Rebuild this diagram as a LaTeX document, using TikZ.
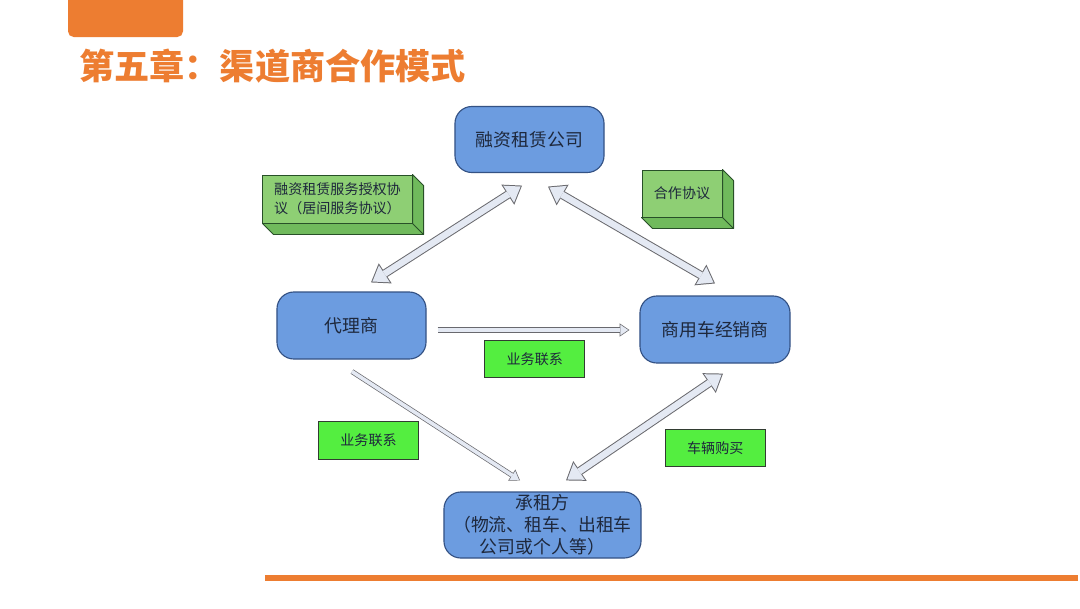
\documentclass[tikz,border=0pt]{standalone}
\usepackage{fontspec}
\setmainfont{Noto Sans CJK SC}
\usetikzlibrary{arrows.meta,calc}
\definecolor{slideorange}{RGB}{237,125,49}
\definecolor{partyfill}{RGB}{108,156,224}
\definecolor{partyline}{RGB}{52,82,132}
\definecolor{tagfill}{RGB}{84,238,64}
\definecolor{tagline}{RGB}{50,60,50}
\definecolor{dealfront}{RGB}{142,207,116}
\definecolor{dealside}{RGB}{112,186,92}
\definecolor{dealline}{RGB}{40,80,40}
\definecolor{arrowline}{RGB}{105,105,110}
\definecolor{arrowfill}{RGB}{228,233,243}
\definecolor{inktext}{RGB}{30,40,60}
\begin{document}
\begin{tikzpicture}[
		x=0.025cm, y=-0.025cm,
		party/.style={draw=partyline, fill=partyfill, line width=0.8pt, rounded corners=12pt, inner sep=0pt, align=center, text=inktext, font=\fontsize{12.7}{15.6}\selectfont},
		tag/.style={draw=tagline, fill=tagfill, line width=0.7pt, inner sep=0pt, minimum width=2.5cm, minimum height=0.94cm, text=inktext, font=\fontsize{10}{12}\selectfont},
		deal/.style={draw=dealline, fill=dealfront, line width=0.7pt, inner sep=0pt, align=left, text=inktext, font=\fontsize{10}{13.5}\selectfont},
		twoway/.style={draw=arrowline, line width=6pt,
				{Triangle[length=12pt,width=17pt,line width=0pt]}-{Triangle[length=12pt,width=17pt,line width=0pt]},
				postaction={draw=arrowfill, line width=4.6pt, shorten >=1.21pt, shorten <=1.21pt,
						{Triangle[length=10.09pt,width=14.29pt,line width=0pt]}-{Triangle[length=10.09pt,width=14.29pt,line width=0pt]}}},
		oneway/.style={draw=arrowline, line width=3.6pt,
				-{Triangle[length=7pt,width=9.5pt,line width=0pt]},
				postaction={draw=arrowfill, line width=2.6pt, shorten >=0.89pt,
						-{Triangle[length=5.61pt,width=7.61pt,line width=0pt]}}}
	]
	\useasboundingbox[fill=white] (0,0) rectangle (1080,608);

	% slide header
	\fill[slideorange, rounded corners=4pt] (68,-6) rectangle (183,37);
	\node[anchor=west, inner sep=0pt, text=slideorange, font=\fontsize{25}{30}\selectfont\bfseries] (title) at (79,66) {第五章：渠道商合作模式};
	\draw[slideorange, line width=3.6pt] (265,578) -- (1078,578);

	% parties
	\node[party, minimum width=3.725cm, minimum height=1.65cm] (fin) at (529.5,139.5) {融资租赁公司};
	\node[party, minimum width=3.725cm, minimum height=1.675cm] (agent) at (351.5,325.5) {代理商};
	\node[party, minimum width=3.75cm, minimum height=1.675cm] (dealer) at (715,329.5) {商用车经销商};
	\node[party, minimum width=4.925cm, minimum height=1.65cm] (lessee) at (542.5,525) {承租方\\（物流、租车、出租车\\公司或个人等）};

	% agreements
	\node[deal, minimum width=3.725cm, minimum height=1.2cm] (svc) at (337.5,199) {融资租赁服务授权协\\议（居间服务协议）};
	\node[deal, minimum width=2cm, minimum height=1.175cm] (coop) at (682,193.5) {合作协议};
	\foreach \b in {svc,coop} {
		\filldraw[fill=dealside, draw=dealline, line width=0.7pt, line join=round]
			(\b.north east) -- ++(11,11) -- ([shift={(11,11)}]\b.south east)
			-- ([shift={(11,11)}]\b.south west) -- (\b.south west) -- (\b.south east) -- cycle;
		\draw[dealline, line width=0.7pt] (\b.south east) -- ++(11,11);
	}

	% relations
	\node[tag] (bizmid) at (534.75,359) {业务联系};
	\node[tag] (bizleft) at (368.5,440.5) {业务联系};
	\node[tag] (buy) at (715.25,448) {车辆购买};

	% arrow ends
	\coordinate (finL) at ([shift={(-7.5,12.5)}]fin.south);
	\coordinate (finR) at ([shift={(18.5,13.5)}]fin.south);
	\coordinate (agentT) at ([shift={(19.5,-9)}]agent.north);
	\coordinate (agentR) at ([shift={(11,4.5)}]agent.east);
	\coordinate (agentB) at ([shift={(0.5,12)}]agent.south);
	\coordinate (dealerT) at ([shift={(0,-12)}]dealer.north);
	\coordinate (dealerL) at ([shift={(-10,0.5)}]dealer.west);
	\coordinate (dealerB) at ([shift={(8,10)}]dealer.south);
	\coordinate (lesseeL) at ([shift={(-22.5,-11)}]lessee.north);
	\coordinate (lesseeR) at ([shift={(23.5,-11)}]lessee.north);

	\draw[twoway] (finL) -- (agentT);
	\draw[twoway] (finR) -- (dealerT);
	\draw[twoway] (dealerB) -- (lesseeR);
	\draw[oneway] (agentR) -- (dealerL);
	\draw[oneway] (agentB) -- (lesseeL);
\end{tikzpicture}
\end{document}
